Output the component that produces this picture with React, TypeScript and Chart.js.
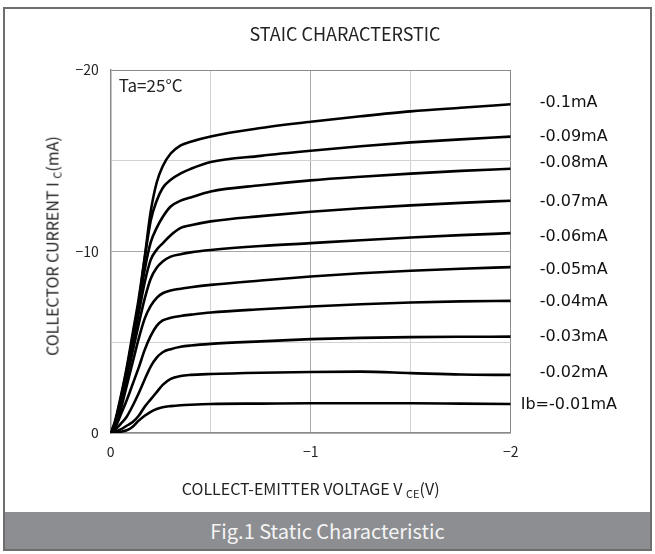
import React, { useEffect, useRef } from "react";
import { Chart, registerables } from "chart.js";

Chart.register(...registerables);

// Collector-emitter voltage (magnitude, V)
const vce = [0, 0.02, 0.05, 0.08, 0.11, 0.14, 0.17, 0.2, 0.23, 0.26, 0.3, 0.35, 0.4, 0.5, 0.75, 1, 1.25, 1.5, 1.75, 2];

// Collector current magnitude (mA) for each base current
const ib100 = [0, 0.6, 2.0, 3.6, 5.5, 7.4, 9.7, 12.2, 13.8, 14.7, 15.4, 15.85, 16.05, 16.34, 16.8, 17.15, 17.45, 17.72, 17.92, 18.11];
const ib090 = [0, 0.5, 1.9, 3.5, 5.3, 7.2, 9.6, 11.7, 12.8, 13.5, 13.95, 14.3, 14.55, 14.93, 15.27, 15.55, 15.8, 16.01, 16.18, 16.33];
const ib080 = [0, 0.5, 1.8, 3.3, 5.1, 7.0, 9.0, 10.5, 11.3, 11.9, 12.48, 12.8, 12.98, 13.31, 13.65, 13.92, 14.12, 14.29, 14.44, 14.56];
const ib070 = [0, 0.45, 1.7, 3.2, 4.9, 6.6, 8.3, 9.54, 10.1, 10.45, 10.9, 11.3, 11.45, 11.66, 11.95, 12.19, 12.38, 12.54, 12.68, 12.8];
const ib060 = [0, 0.4, 1.6, 3.0, 4.5, 6.0, 7.4, 8.5, 9.1, 9.45, 9.72, 9.85, 9.95, 10.08, 10.3, 10.46, 10.62, 10.77, 10.9, 11.01];
const ib050 = [0, 0.3, 1.3, 2.6, 3.9, 5.2, 6.3, 7.0, 7.45, 7.7, 7.85, 7.95, 8.03, 8.16, 8.4, 8.62, 8.8, 8.94, 9.05, 9.14];
const ib040 = [0, 0.25, 1.0, 1.8, 2.7, 3.6, 4.58, 5.35, 5.9, 6.2, 6.35, 6.45, 6.52, 6.64, 6.82, 6.97, 7.09, 7.19, 7.25, 7.28];
const ib030 = [0, 0.15, 0.5, 0.9, 1.5, 2.19, 2.95, 3.66, 4.15, 4.45, 4.62, 4.75, 4.82, 4.91, 5.05, 5.17, 5.24, 5.28, 5.3, 5.31];
const ib020 = [0, 0.05, 0.2, 0.4, 0.6, 0.95, 1.45, 1.85, 2.25, 2.65, 2.98, 3.14, 3.2, 3.25, 3.32, 3.36, 3.38, 3.3, 3.22, 3.2];
const ib010 = [0, 0.02, 0.07, 0.15, 0.35, 0.68, 0.95, 1.17, 1.32, 1.42, 1.48, 1.53, 1.56, 1.6, 1.62, 1.64, 1.64, 1.64, 1.62, 1.6];

const seriesValues = [ib100, ib090, ib080, ib070, ib060, ib050, ib040, ib030, ib020, ib010];
const seriesLabels = ["-0.1mA", "-0.09mA", "-0.08mA", "-0.07mA", "-0.06mA", "-0.05mA", "-0.04mA", "-0.03mA", "-0.02mA", "Ib=-0.01mA"];
// current level (mA) at which each curve's label sits
const labelLevels = [18.2, 16.33, 14.89, 12.74, 10.81, 8.99, 7.22, 5.29, 3.31, 1.54];

const xTickLabels: Record<number, string> = { 0: "0", 1: "\u22121", 2: "\u22122" };
const yTickLabels: Record<number, string> = { 0: "0", 10: "\u221210", 20: "\u221220" };

const chartTitle = "STAIC CHARACTERSTIC";
const tempNote = "Ta=25\u00B0C";
const caption = "Fig.1 Static Characteristic";

const CJK = "'Noto Sans CJK SC', 'Noto Sans', sans-serif";

const annotate = {
  id: "annotate",
  afterDraw(chart: any) {
    const { ctx, chartArea, scales } = chart;
    ctx.save();
    // title
    ctx.fillStyle = "#222";
    ctx.font = `18px ${CJK}`;
    ctx.textAlign = "center";
    ctx.textBaseline = "alphabetic";
    ctx.fillText(chartTitle, 345, 41);
    // temperature note
    ctx.textAlign = "left";
    ctx.font = `17px ${CJK}`;
    ctx.fillText(tempNote, chartArea.left + 8, chartArea.top + 22);
    // curve labels
    ctx.font = "16px 'DejaVu Sans', sans-serif";
    ctx.fillStyle = "#111";
    ctx.textBaseline = "middle";
    seriesLabels.forEach((lab, i) => {
      const y = scales.y.getPixelForValue(labelLevels[i]);
      const x = i === seriesLabels.length - 1 ? chartArea.right + 10 : chartArea.right + 29;
      ctx.fillText(lab, x, y);
    });
    ctx.restore();
  },
};

export default function App() {
  const canvasRef = useRef<HTMLCanvasElement | null>(null);

  useEffect(() => {
    if (!canvasRef.current) return;
    const datasets = seriesValues.map((vals, i) => ({
      label: seriesLabels[i],
      data: vals.map((y, k) => ({ x: vce[k], y })),
      borderColor: "#000",
      borderWidth: 2.6,
      pointRadius: 0,
      fill: false,
      cubicInterpolationMode: "monotone" as const,
    }));
    const gridColor = (major: number, max: number) => (ctx: any) => {
      const v = ctx.tick?.value;
      if (v === max) return "#8a8a8a";
      if (v === major) return "#a8a8a8";
      return "#d2d2d2";
    };
    const chart = new Chart(canvasRef.current, {
      type: "line",
      data: { datasets },
      plugins: [annotate],
      options: {
        animation: false,
        responsive: false,
        maintainAspectRatio: false,
        layout: { padding: { left: 0, right: 144.3, top: 70, bottom: 47 } },
        plugins: { legend: { display: false }, tooltip: { enabled: false }, title: { display: false } },
        scales: {
          x: {
            type: "linear",
            min: 0,
            max: 2,
            afterFit: (s: any) => { s.height = 30; },
            grid: { color: gridColor(1, 2), drawTicks: false, lineWidth: 1 },
            border: { color: "#8a8a8a", width: 1.5 },
            ticks: {
              stepSize: 0.5,
              padding: 10,
              color: "#222",
              font: { family: CJK, size: 14 },
              maxRotation: 0,
              autoSkip: false,
              callback: (v: any) => xTickLabels[v as number] ?? "",
            },
          },
          y: {
            type: "linear",
            min: 0,
            max: 20,
            afterFit: (s: any) => { s.width = 110.7; },
            grid: { color: gridColor(10, 20), drawTicks: false, lineWidth: 1 },
            border: { color: "#8a8a8a", width: 1.5 },
            ticks: {
              stepSize: 5,
              padding: 12,
              color: "#222",
              font: { family: CJK, size: 14 },
              autoSkip: false,
              callback: (v: any) => yTickLabels[v as number] ?? "",
            },
          },
        },
      },
    } as any);
    return () => chart.destroy();
  }, []);

  const subStyle: React.CSSProperties = { fontSize: 11, verticalAlign: "-3px" };

  return (
    <div style={{ position: "absolute", left: 0, top: 0, width: 655, height: 554, background: "#fff", overflow: "hidden" }}>
      <div
        style={{
          position: "absolute",
          left: 3,
          top: 7,
          width: 649,
          height: 544,
          boxSizing: "border-box",
          border: "2px solid #6e6e6e",
        }}
      />
      <canvas ref={canvasRef} width={655} height={510} style={{ position: "absolute", left: 0, top: 0, width: 655, height: 510 }} />
      <div
        style={{
          position: "absolute",
          left: 310.7,
          top: 490,
          transform: "translate(-50%, -50%)",
          whiteSpace: "nowrap",
          fontFamily: CJK,
          fontSize: 16,
          color: "#222",
          lineHeight: "20px",
        }}
      >
        COLLECT-EMITTER VOLTAGE V <span style={subStyle}>CE</span>(V)
      </div>
      <div
        style={{
          position: "absolute",
          left: 54,
          top: 246,
          transform: "translate(-50%, -50%) rotate(-90deg)",
          whiteSpace: "nowrap",
          fontFamily: CJK,
          fontSize: 16,
          color: "#222",
          lineHeight: "20px",
        }}
      >
        COLLECTOR CURRENT I <span style={subStyle}>C</span>(mA)
      </div>
      <div
        style={{
          position: "absolute",
          left: 5,
          top: 512,
          width: 645,
          height: 37,
          background: "#8d8e92",
          color: "#f4f4f4",
          fontFamily: CJK,
          fontSize: 20,
          lineHeight: "37px",
          textAlign: "center",
        }}
      >
        {caption}
      </div>
    </div>
  );
}
